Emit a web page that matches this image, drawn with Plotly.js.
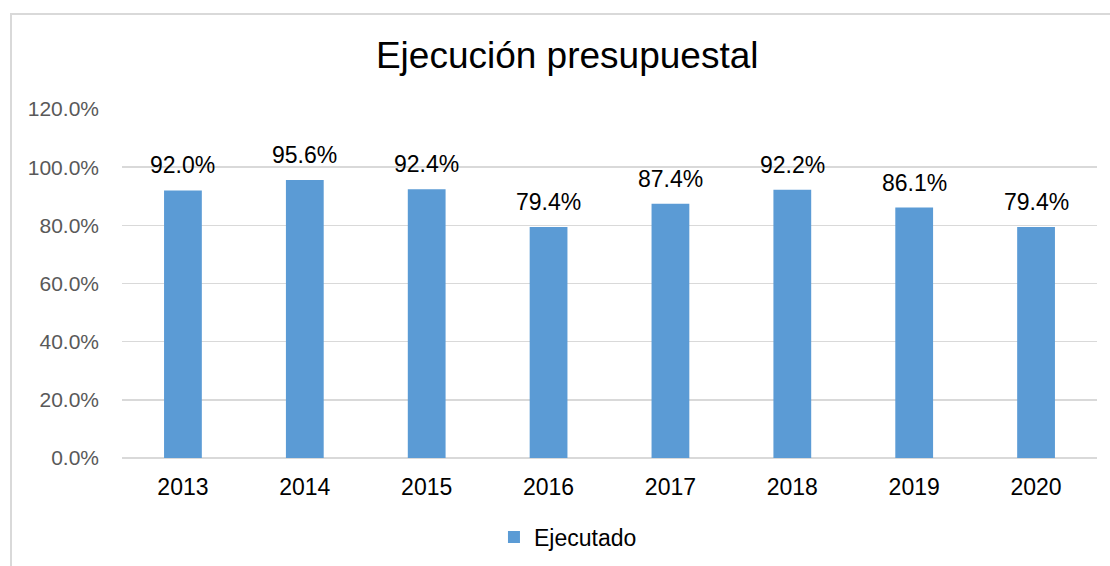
<!DOCTYPE html>
<html>
<head>
<meta charset="utf-8">
<script src="https://cdn.plot.ly/plotly-3.0.1.min.js"></script>
<style>
  html, body { margin: 0; padding: 0; background: #fff; overflow: hidden; }
  #frame { position: absolute; left: 10px; top: 13px; width: 1300px; height: 800px; border: 2px solid #d9d9d9; box-sizing: border-box; }
  #chart { position: absolute; left: 0; top: 0; width: 1110px; height: 566px; }
</style>
</head>
<body>
<div id="frame"></div>
<div id="chart"></div>
<script>
const years = ["2013", "2014", "2015", "2016", "2017", "2018", "2019", "2020"];
const ejecutado = [0.920, 0.956, 0.924, 0.794, 0.874, 0.922, 0.861, 0.794];
const yTickVals = [0, 0.2, 0.4, 0.6, 0.8, 1.0, 1.2];

const trace = {
  type: "bar",
  x: years,
  y: ejecutado,
  name: "Ejecutado",
  marker: { color: "#5b9bd5" },
  hoverinfo: "none"
};

const labelAnnotations = years.map((yr, i) => ({
  x: i,
  y: ejecutado[i],
  xref: "x",
  yref: "y",
  text: (ejecutado[i] * 100).toFixed(1) + "%",
  showarrow: false,
  yanchor: "bottom",
  yshift: 10,
  font: { family: "Liberation Sans, Arial, sans-serif", size: 23, color: "#000" }
}));

const layout = {
  width: 1110,
  height: 566,
  paper_bgcolor: "rgba(0,0,0,0)",
  plot_bgcolor: "rgba(0,0,0,0)",
  margin: { l: 122, r: 13, t: 109, b: 108, autoexpand: false },
  font: { family: "Liberation Sans, Arial, sans-serif" },
  title: {
    text: "Ejecución presupuestal",
    x: 0.511, xref: "container", xanchor: "center",
    y: 0.903, yref: "container", yanchor: "middle",
    font: { size: 37, color: "#000" }
  },
  bargap: 0.69,
  annotations: labelAnnotations,
  xaxis: {
    type: "category",
    categoryarray: years,
    range: [-0.5, years.length - 0.5],
    autorange: false,
    automargin: false,
    showgrid: false,
    showline: false,
    ticks: "",
    tickfont: { size: 23, color: "#000" },
    ticklabelstandoff: 13
  },
  yaxis: {
    range: [0, 1.2],
    autorange: false,
    automargin: false,
    tickvals: yTickVals,
    tickformat: ".1%",
    showgrid: true,
    gridcolor: "#d9d9d9",
    gridwidth: 1.5,
    zeroline: true,
    zerolinecolor: "#d9d9d9",
    zerolinewidth: 2,
    showline: false,
    ticks: "",
    tickfont: { size: 21, color: "#595959" },
    ticklabelstandoff: 22
  },
  showlegend: true,
  legend: {
    orientation: "h",
    x: 0.4574, xanchor: "center",
    y: 0.0512, yref: "container", yanchor: "middle",
    font: { size: 23, color: "#000" },
    itemwidth: 30
  }
};

Plotly.newPlot("chart", [trace], layout, { displayModeBar: false, staticPlot: true });
</script>
</body>
</html>
